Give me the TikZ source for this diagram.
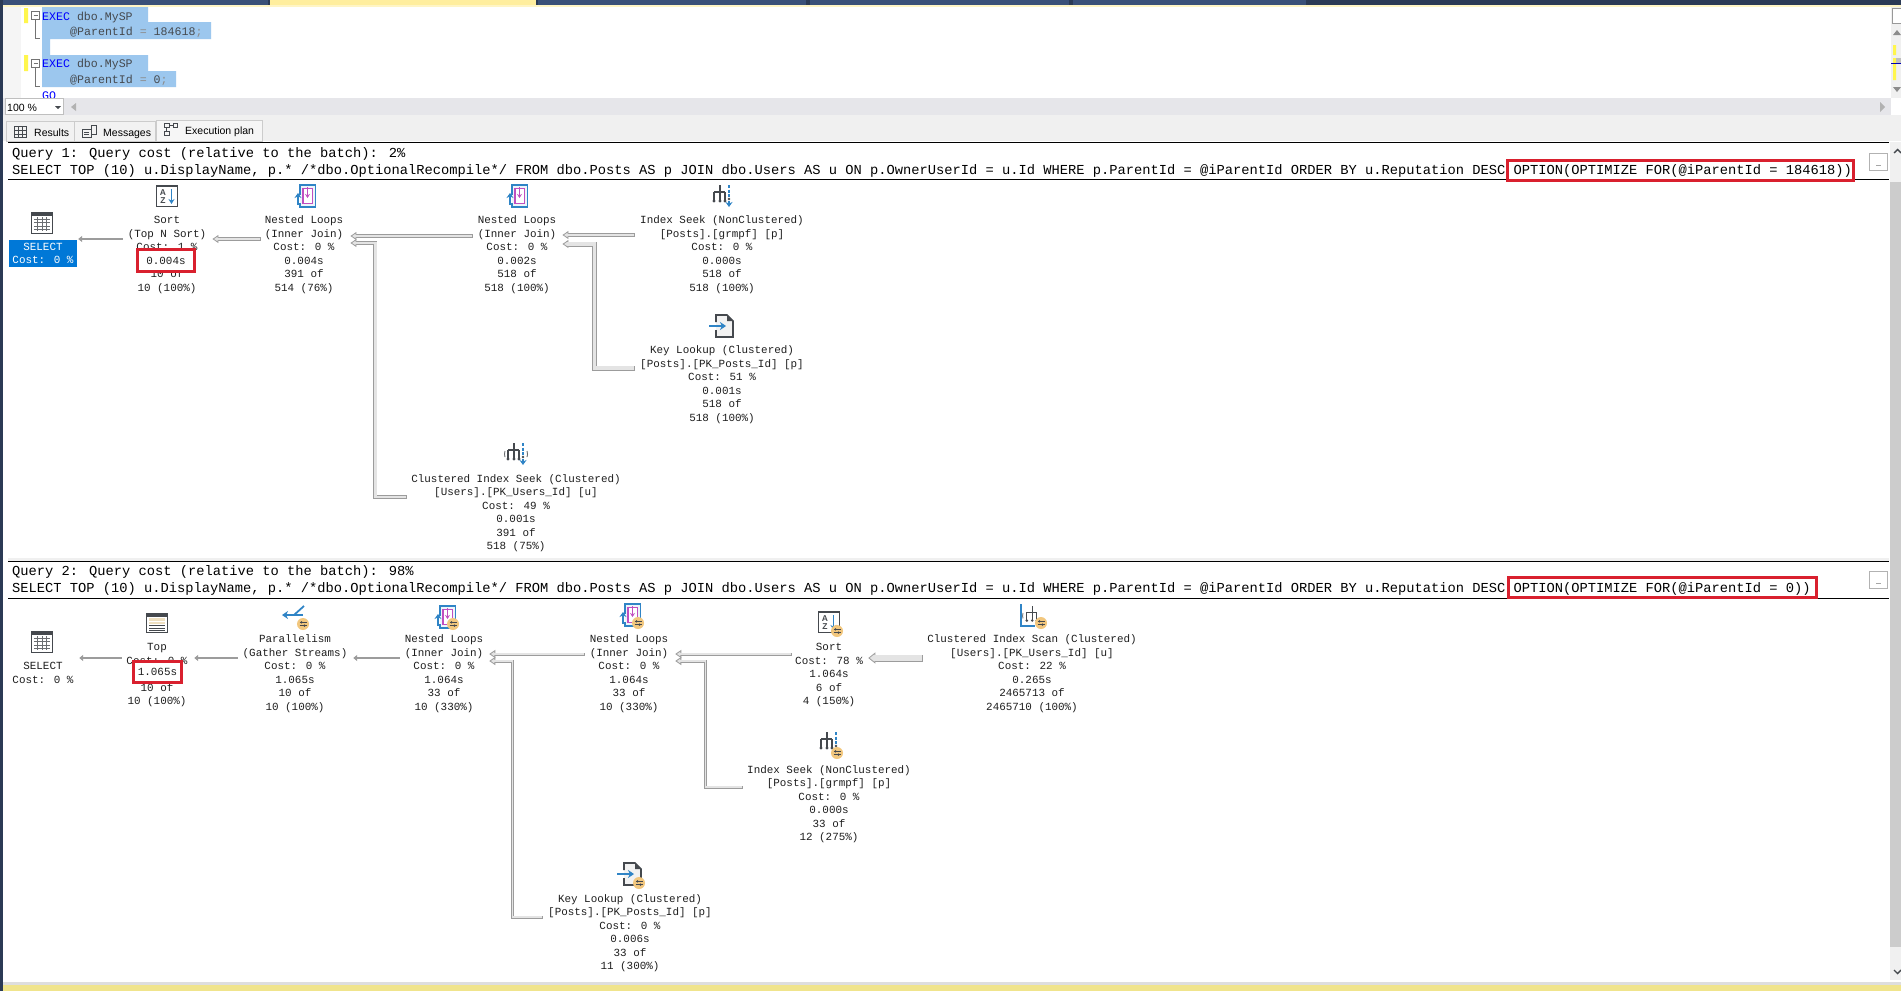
\documentclass[tikz,border=0pt]{standalone}
\usepackage{fontspec}
\setmainfont{Liberation Sans}
\newfontfamily\monofam{Liberation Mono}
\usetikzlibrary{arrows.meta}
\newcommand\toprow{\rule{0pt}{10.5pt}}
\definecolor{navy}{HTML}{2B3A55}
\definecolor{tabblue}{HTML}{3A5078}
\definecolor{tabyellow}{HTML}{FFEE9E}
\definecolor{selblue}{HTML}{9CC7EE}
\definecolor{hiblue}{HTML}{0078D7}
\definecolor{barbg}{HTML}{E6E6EA}
\definecolor{tabbg}{HTML}{F0F0F0}
\definecolor{redmark}{HTML}{D9202E}
\definecolor{edge}{HTML}{9C9C9C}
\definecolor{edgefill}{HTML}{E4E4E4}
\definecolor{icondark}{HTML}{45494E}
\definecolor{iconblue}{HTML}{2F84C6}
\definecolor{iconpurple}{HTML}{C04FC0}
\definecolor{badge}{HTML}{F2C77E}
\definecolor{plantext}{HTML}{1E1E1E}
\definecolor{tanline}{HTML}{EFE0C0}
\definecolor{statusbar}{HTML}{F0E48C}
\tikzset{
  plan/.style={font=\monofam\fontsize{10.9}{13.5}\selectfont,align=center,inner sep=0pt,text=plantext},
  opn/.style={plan},
  qtext/.style={font=\monofam\fontsize{13.75}{16}\selectfont,inner sep=0pt,anchor=base west,text=black},
  code/.style={font=\monofam\fontsize{11.6}{14}\selectfont,inner sep=0pt,anchor=base west,text=icondark},
  ui/.style={font=\fontsize{10.5}{13}\selectfont,inner sep=0pt,anchor=base west,text=black},
  hot/.style={plan,draw=redmark,line width=3pt,fill=white,minimum width=57pt},
  redrect/.style={draw=redmark,line width=3pt},
  flow/.style={draw=edge,line width=#1,line join=miter,
    -{Triangle[length=6pt,width=8pt,fill=edgefill,line width=.8pt]},
    postaction={draw=edgefill,line width=#1-1.6pt,-,shorten >=5pt,shorten <=.8pt}},
  flowbig/.style={draw=edge,line width=7pt,
    -{Triangle[length=7pt,width=11pt,fill=edgefill,line width=.8pt]},
    postaction={draw=edgefill,line width=5.4pt,-,shorten >=6pt,shorten <=.8pt}},
  flowthin/.style={draw=edge,line width=#1,-{Triangle[length=4pt,width=6pt]}},
  pics/badgepic/.style={code={
    \fill[badge] (0,0) circle (6pt);
    \draw[icondark,line width=1pt] (-3.5,-1.6)--(3.5,-1.6) (-3.5,1.6)--(3.5,1.6);
    \fill[icondark] (-1.5,-1.6) circle (1.2pt) (1.5,1.6) circle (1.2pt);
  }},
  pics/tblicon/.style={code={
    \draw[icondark,line width=1.6pt,fill=white] (-10.5,-10.5) rectangle (10.5,10.5);
    \fill[icondark] (-10.5,-10.5) rectangle (10.5,-7);
    \draw[icondark!80,line width=.8pt] (-8,-4)--(8,-4) (-8,-.5)--(8,-.5) (-8,3)--(8,3) (-8,6.5)--(8,6.5)
      (-4.5,-6)--(-4.5,8) (0,-6)--(0,8) (4.5,-6)--(4.5,8);
  }},
  pics/topicon/.style={code={
    \draw[icondark,line width=1.6pt,fill=white] (-10.5,-9.5) rectangle (10.5,9.5);
    \fill[icondark] (-10.5,-9.5) rectangle (10.5,-6.5);
    \fill[tanline] (-8,-5) rectangle (8,-2);
    \fill[tanline] (-8,-1) rectangle (8,1);
    \draw[icondark,line width=.9pt] (-8,2.5)--(8,2.5) (-8,5)--(8,5) (-8,7.5)--(8,7.5);
  }},
  pics/sorticon/.style={code={
    \draw[icondark,line width=1.6pt,fill=white] (-10.5,-10.5) rectangle (10.5,10.5);
    \fill[icondark] (-10.5,-10.5) rectangle (10.5,-8.8);
    \node[inner sep=0pt,font=\fontsize{8.5}{9}\selectfont\bfseries,text=icondark] at (-4,-3.6) {A};
    \node[inner sep=0pt,font=\fontsize{8.5}{9}\selectfont\bfseries,text=icondark] at (-4,4.6) {Z};
    \draw[iconblue,line width=1.5pt,-{Stealth[length=5pt,width=6pt]}] (4.5,-7)--(4.5,8);
  }},
  pics/loopicon/.style={code={
    \draw[iconblue,line width=1.3pt,fill=iconblue!8] (-5,-1)--(-5,-11)--(10.5,-11)--(10.5,11)--(-5,11)--(-5,7);
    \draw[iconpurple,line width=1.3pt,fill=white] (-2,-7.5) rectangle (7.5,7.5);
    \draw[iconpurple,line width=1.4pt,-{Stealth[length=4pt,width=5pt]}] (2.5,-9)--(2.5,2);
    \draw[iconblue,line width=1.8pt,-{Stealth[length=5pt,width=7pt]}] (-7,9)--(-7,-3);
  }},
  pics/treepart/.style={code={
    \draw[icondark,line width=1.3pt] (-2,-11)--(-2,5) (-8,-4)--(3,-4) (-8,-4)--(-8,5) (3,-4)--(3,5);
    \fill[icondark] (-8,5) circle (1.6pt) (-2,5) circle (1.6pt) (3,5) circle (1.6pt);
  }},
  pics/seekicon/.style={code={
    \pic {treepart};
    \draw[iconblue,line width=1.3pt,dashed,dash pattern=on 3pt off 1.5pt] (7,-11)--(7,1);
    \fill[icondark] (7,3) circle (1.4pt);
    \draw[iconblue,line width=1.6pt,-{Stealth[length=5pt,width=7pt]}] (7,5)--(7,11);
  }},
  pics/clseekicon/.style={code={
    \pic {seekicon};
    \draw[icondark!80,line width=.9pt] (-11,-3) arc[start angle=160,end angle=200,radius=9pt];
    \draw[icondark!80,line width=.9pt] (11,-3) arc[start angle=20,end angle=-20,radius=9pt];
  }},
  pics/scanicon/.style={code={
    \draw[iconblue,line width=1.3pt] (-11,-11)--(-11,11)--(3,11);
    \pic[scale=.9] at (2,1) {treepart};
    \draw[icondark!70,line width=.9pt] (-9,-2) arc[start angle=160,end angle=200,radius=8pt];
  }},
  pics/lookicon/.style={code={
    \draw[icondark,line width=1.6pt,fill=black!5] (-6,-4)--(-6,-11)--(5,-11)--(11,-5)--(11,11)--(-6,11)--(-6,4);
    \fill[icondark] (5,-11)--(5,-5)--(11,-5)--cycle;
    \draw[iconblue,line width=1.7pt,-{Stealth[length=6pt,width=8pt]}] (-13,0)--(4,0);
  }},
  pics/paricon/.style={code={
    \draw[iconblue,line width=1.8pt,-{Stealth[length=6pt,width=8pt]}] (8,-2)--(-13,-2);
    \draw[iconblue,line width=1.8pt] (-1,-2)--(9,-11);
  }},
}
\begin{document}
\begin{tikzpicture}[x=1pt,y=-1pt]
\useasboundingbox (0,0) rectangle (1901,991);
\fill[white] (0,0) rectangle (1901,991);
% title strip
\fill[navy] (0,0) rectangle (1901,5);
\foreach \a/\b in {3/268,538/806,810/1069,1073/1306}{\fill[tabblue] (\a,0) rectangle (\b,5);}
\fill[tabyellow] (270,0) rectangle (536,6);
\fill[tabyellow!60] (3,5) rectangle (1901,7);
% editor
\fill[black!4] (3,7) rectangle (21,98);
\fill[yellow!70] (24,8) rectangle (28,23) (24,55) rectangle (28,71);
\fill[selblue] (42,7) rectangle (148,22) (42,22) rectangle (211,39) (42,39) rectangle (50,55)
  (42,55) rectangle (148,71) (42,71) rectangle (176,87);
\draw[black!55,line width=.8pt] (31.5,11.5) rectangle (39.5,19.5) (33.5,15.5)--(37.5,15.5)
  (35.5,19.5)--(35.5,38.5)--(40,38.5)
  (31.5,59.5) rectangle (39.5,67.5) (33.5,63.5)--(37.5,63.5) (35.5,67.5)--(35.5,86)--(40,86);
\node[code] (c1) at (42,20) {\textcolor{blue}{EXEC} dbo.MySP};
\node[code] (c2) at (70,35) {@ParentId \textcolor{black!45}{=} 184618\textcolor{black!45}{;}};
\node[code] (c3) at (42,67) {\textcolor{blue}{EXEC} dbo.MySP};
\node[code] (c4) at (70,83) {@ParentId \textcolor{black!45}{=} 0\textcolor{black!45}{;}};
\node[code,text=blue] (c5) at (42,99) {GO};
% zoom bar
\fill[barbg] (3,98) rectangle (1891,115);
\draw[black!25,fill=white,line width=.8pt] (5,98) rectangle (63,114);
\node[ui] (zoomtxt) at (7,111) {100 \%};
\fill[icondark] (55,106) -- (61,106) -- (58,109) -- cycle;
\fill[black!30] (76,103) -- (76,111) -- (71,107) -- cycle;
\fill[black!30] (1880,102) -- (1880,112) -- (1885,107) -- cycle;
% tabs
\fill[tabbg] (3,115) rectangle (1901,141);
\draw[black!20,line width=.8pt,fill=black!5] (6,121) rectangle (74,141) (74,121) rectangle (155,141);
\draw[black!20,line width=.8pt,fill=tabbg!60] (156,120) rectangle (262,141);
\draw[icondark,line width=.9pt] (14.5,126.5) rectangle (26.5,137.5) (14.5,130)--(26.5,130) (14.5,134)--(26.5,134) (18.5,126.5)--(18.5,137.5) (22.5,126.5)--(22.5,137.5);
\draw[icondark,line width=.9pt] (82.5,129.5) rectangle (91,137.5) (91,125) rectangle (96,134) (84,132)--(89,132) (84,134.5)--(89,134.5);
\draw[icondark,line width=.9pt] (164.5,123) rectangle (169,127.5) (173,123) rectangle (177.5,127.5) (164.5,131) rectangle (169,135.5) (169,125)--(173,125) (166.5,127.5)--(166.5,131);
\node[ui] (tab1) at (34,136) {Results};
\node[ui] (tab2) at (103,136) {Messages};
\node[ui] (tab3) at (185,134) {Execution plan};
% right scrollbars
\fill[tabbg] (1891,7) rectangle (1901,98);
\draw[black!40,fill=white,line width=.8pt] (1892,8) rectangle (1901,23);
\fill[black!45] (1897,30) -- (1893,35) -- (1901,35) -- cycle (1897,92) -- (1893,87) -- (1901,87) -- cycle;
\fill[yellow!70] (1893,45) rectangle (1896,55) (1893,58) rectangle (1896,80);
\fill[black!25] (1896,58) rectangle (1901,63);
\fill[blue!70!black] (1891,62.5) rectangle (1901,64);
\fill[tabbg] (1890,142) rectangle (1901,980);
\fill[black!20] (1890,182) rectangle (1901,947);
\draw[icondark,line width=1.4pt] (1894,153)--(1897.5,149.5)--(1901,153) (1894,970)--(1897.5,973.5)--(1901,970);
% bottom and left edge
\fill[black!13] (3,982) rectangle (1901,985);
\fill[statusbar] (0,985) rectangle (1901,991);
\fill[navy] (0,0) rectangle (3,991);
% query headers
\draw[black,line width=.9pt] (8,142)--(1889,142) (8,179)--(1889,179);
\fill[black!6] (8,558) rectangle (1889,561);
\draw[black,line width=.9pt] (8,561)--(1889,561) (8,598)--(1889,598);
\node[qtext] (q1a) at (12,157) {Query 1: Query cost (relative to the batch): 2\%};
\node[qtext] (q1b) at (12,174) {SELECT TOP (10) u.DisplayName, p.* /*dbo.OptionalRecompile*/ FROM dbo.Posts AS p JOIN dbo.Users AS u ON p.OwnerUserId = u.Id WHERE p.ParentId = @iParentId ORDER BY u.Reputation DESC OPTION(OPTIMIZE FOR(@iParentId = 184618))};
\node[qtext] (q2a) at (12,575) {Query 2: Query cost (relative to the batch): 98\%};
\node[qtext] (q2b) at (12,592) {SELECT TOP (10) u.DisplayName, p.* /*dbo.OptionalRecompile*/ FROM dbo.Posts AS p JOIN dbo.Users AS u ON p.OwnerUserId = u.Id WHERE p.ParentId = @iParentId ORDER BY u.Reputation DESC OPTION(OPTIMIZE FOR(@iParentId = 0))};
\draw[redrect] (1507.5,160.5) rectangle (1853.5,180.5);
\draw[redrect] (1508.5,577.5) rectangle (1816.5,597.5);
\foreach \yy in {153,571}{
  \draw[black!30,line width=1pt,fill=white] (1869.5,\yy.5) rectangle (1887.5,\yy+17);
  \draw[black!35,line width=.8pt] (1876,\yy+12)--(1881,\yy+12);
}
% ---------- Query 1 operators
\node[plan,fill=hiblue,text=white,minimum width=68pt,minimum height=27pt] (sel1) at (43,253.5) {SELECT\\Cost: 0 \%};
\node[opn] (sort1) at (167,253.5) {\toprow Sort\\(Top N Sort)\\Cost: 1 \%\\\phantom{0.004s}\\10 of\\10 (100\%)};
\node[opn] (nl1) at (304,253.5) {\toprow Nested Loops\\(Inner Join)\\Cost: 0 \%\\0.004s\\391 of\\514 (76\%)};
\node[opn] (nl2) at (517,253.5) {\toprow Nested Loops\\(Inner Join)\\Cost: 0 \%\\0.002s\\518 of\\518 (100\%)};
\node[opn] (is1) at (722,253.5) {\toprow Index Seek (NonClustered)\\{[}Posts].[grmpf] [p]\\Cost: 0 \%\\0.000s\\518 of\\518 (100\%)};
\node[opn] (kl1) at (722,383.5) {\toprow Key Lookup (Clustered)\\{[}Posts].[PK\_Posts\_Id] [p]\\Cost: 51 \%\\0.001s\\518 of\\518 (100\%)};
\node[opn] (cis) at (516,512) {\toprow Clustered Index Seek (Clustered)\\{[}Users].[PK\_Users\_Id] [u]\\Cost: 49 \%\\0.001s\\391 of\\518 (75\%)};
\node[hot,minimum height=22pt] (t1) at (166,260.5) {0.004s};
\pic at (42,223) {tblicon};
\pic at (167,196) {sorticon};
\pic at (305,196) {loopicon};
\pic at (517,196) {loopicon};
\pic at (722,196) {seekicon};
\pic at (722,326) {lookicon};
\pic at (516,454) {clseekicon};
\draw[flowthin=2.5pt] ([shift={(-5,-14.5)}]sort1.west) -- ([shift={(1,-14.5)}]sel1.east);
\draw[flow=3.6pt] ([shift={(-4,-14.5)}]nl1.west) -- ([shift={(6,-14.5)}]sort1.east);
\draw[flow=4pt] ([shift={(-5,-17.5)}]nl2.west) -- ([shift={(7,-17.5)}]nl1.east);
\draw[flow=4pt] ([shift={(-4,-15)}]cis.west) -| ([shift={(32,-10.5)}]nl1.east) -- ([shift={(7,-10.5)}]nl1.east);
\draw[flow=4pt] ([shift={(-5,-18.5)}]is1.west) -- ([shift={(6,-18.5)}]nl2.east);
\draw[flow=5pt] ([shift={(-5,-15.5)}]kl1.west) -| ([shift={(38,-9.5)}]nl2.east) -- ([shift={(6,-9.5)}]nl2.east);
% ---------- Query 2 operators
\node[plan] (sel2) at (43,673) {SELECT\\Cost: 0 \%};
\node[opn] (top2) at (157,673.5) {\toprow Top\\Cost: 0 \%\\\phantom{1.065s}\\10 of\\10 (100\%)};
\node[opn] (par) at (295,672.5) {\toprow Parallelism\\(Gather Streams)\\Cost: 0 \%\\1.065s\\10 of\\10 (100\%)};
\node[opn] (nl3) at (444,672.5) {\toprow Nested Loops\\(Inner Join)\\Cost: 0 \%\\1.064s\\33 of\\10 (330\%)};
\node[opn] (nl4) at (629,672.5) {\toprow Nested Loops\\(Inner Join)\\Cost: 0 \%\\1.064s\\33 of\\10 (330\%)};
\node[opn] (sort2) at (829,673.5) {\toprow Sort\\Cost: 78 \%\\1.064s\\6 of\\4 (150\%)};
\node[opn] (scan) at (1032,672.5) {\toprow Clustered Index Scan (Clustered)\\{[}Users].[PK\_Users\_Id] [u]\\Cost: 22 \%\\0.265s\\2465713 of\\2465710 (100\%)};
\node[opn] (is2) at (829,803) {\toprow Index Seek (NonClustered)\\{[}Posts].[grmpf] [p]\\Cost: 0 \%\\0.000s\\33 of\\12 (275\%)};
\node[opn] (kl2) at (630,932) {\toprow Key Lookup (Clustered)\\{[}Posts].[PK\_Posts\_Id] [p]\\Cost: 0 \%\\0.006s\\33 of\\11 (300\%)};
\node[hot,minimum width=48pt,minimum height=21pt] (t2) at (157.5,672) {1.065s};
\pic at (42,642) {tblicon};
\pic at (157,623) {topicon};
\pic at (295,617) {paricon};      \pic at (303,624) {badgepic};
\pic at (445,617) {loopicon};     \pic at (453,624) {badgepic};
\pic at (630,615) {loopicon};     \pic at (638,623) {badgepic};
\pic at (829,622) {sorticon};     \pic at (837,631) {badgepic};
\pic at (1032,615) {scanicon};    \pic at (1041,623) {badgepic};
\pic at (829,743) {seekicon};     \pic at (837,753) {badgepic};
\pic at (630,874) {lookicon};     \pic at (639,883) {badgepic};
\draw[flowthin=2pt] ([shift={(-4.5,-15.5)}]top2.west) -- ([shift={(5.5,-15)}]sel2.east);
\draw[flowthin=2.7pt] ([shift={(-4.7,-14.5)}]par.west) -- ([shift={(6.5,-15.5)}]top2.east);
\draw[flowthin=2.7pt] ([shift={(-4.8,-14.5)}]nl3.west) -- ([shift={(5.7,-14.5)}]par.east);
\draw[flow=3pt] ([shift={(-4.8,-18.5)}]nl4.west) -- ([shift={(5.8,-18.5)}]nl3.east);
\draw[flow=3pt] ([shift={(-5.2,-15)}]kl2.west) -| ([shift={(28.8,-11.5)}]nl3.east) -- ([shift={(5.8,-11.5)}]nl3.east);
\draw[flow=3pt] ([shift={(-3.3,-19.5)}]sort2.west) -- ([shift={(6.8,-18.5)}]nl4.east);
\draw[flow=3pt] ([shift={(-4.2,-16)}]is2.west) -| ([shift={(36.8,-11.5)}]nl4.east) -- ([shift={(6.8,-11.5)}]nl4.east);
\draw[flowbig] ([shift={(-4.4,-14.5)}]scan.west) -- ([shift={(5.3,-15.5)}]sort2.east);
\end{tikzpicture}
\end{document}
